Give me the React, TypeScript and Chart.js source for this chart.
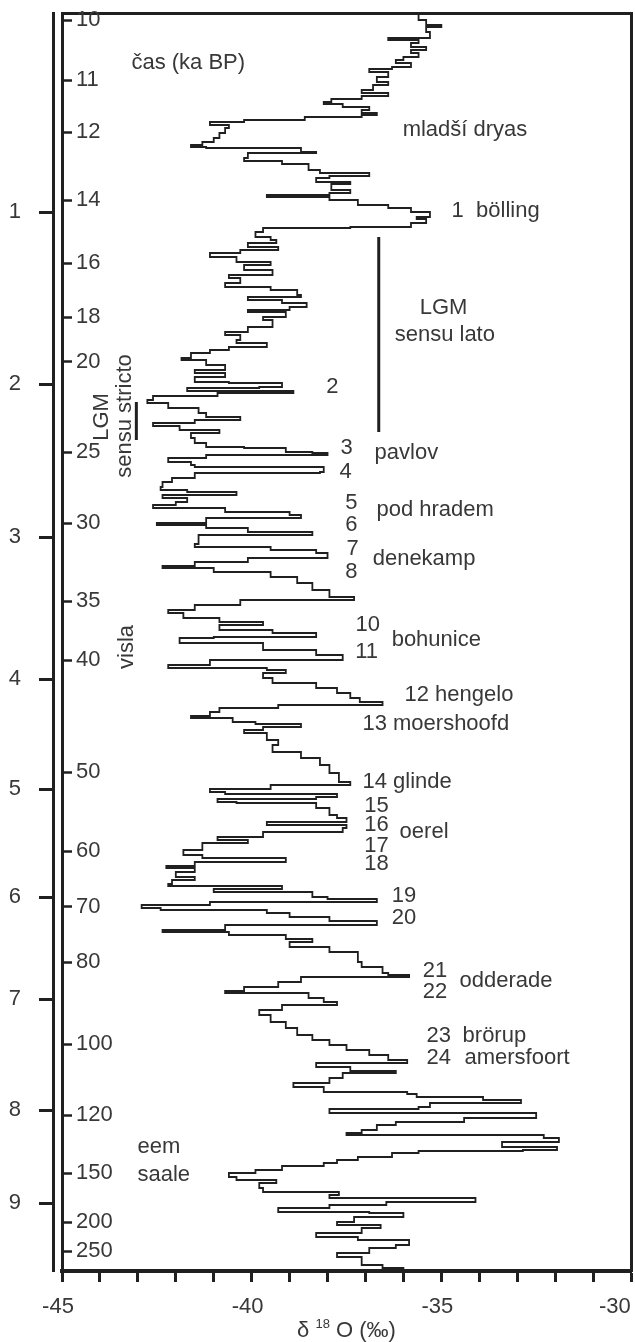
import React, { useEffect, useRef } from 'react';
import { Chart, registerables } from 'chart.js';

Chart.register(...registerables);

const FONT = '"Liberation Sans", Arial, Helvetica, sans-serif';
const TEXT = '#383838';
const INK = '#202020';

// vertical coordinate: linear position along the plotted profile (0 = top of record)
const PROFILE_MAX = 1258;

// inner axis: time (ka BP), non-linear
const AGE_LABELS = ['10', '11', '12', '14', '16', '18', '20', '25', '30', '35', '40', '50', '60', '70', '80', '100', '120', '150', '200', '250'];
const AGE_POS = [7, 67, 119, 187, 250, 304, 349, 439, 510, 588, 647, 759, 838, 894, 949, 1031, 1102, 1160, 1209, 1238];

// outer axis: depth (km)
const DEPTH_LABELS = ['1', '2', '3', '4', '5', '6', '7', '8', '9'];
const DEPTH_POS = [199, 371, 524, 666, 776, 884, 986, 1097, 1190];

// δ18O record (stepped), position along profile
const PROFILE_POS = [
  0, 7, 12, 14, 19, 25, 27, 30, 34, 37, 40, 44, 47, 50, 54, 56, 59, 64, 69, 72,
  77, 80, 83, 86, 89, 91, 94, 97, 100, 102, 104, 107, 109, 112, 115, 120, 125, 129, 132, 134,
  135, 139, 140, 145, 148, 151, 157, 160, 163, 165, 169, 171, 177, 180, 182, 184, 187, 192, 195, 199,
  204, 206, 210, 214, 215, 219, 224, 227, 230, 234, 237, 240, 244, 249, 252, 257, 262, 265, 270, 274,
  277, 282, 284, 287, 290, 294, 297, 299, 304, 307, 314, 319, 322, 327, 330, 334, 337, 340, 345, 347,
  352, 357, 360, 364, 369, 370, 374, 375, 378, 380, 383, 387, 390, 395, 400, 404, 407, 410, 413, 417,
  420, 425, 430, 434, 435, 439, 440, 442, 445, 449, 452, 454, 459, 460, 465, 469, 474, 477, 479, 482,
  485, 489, 492, 495, 499, 502, 505, 510, 512, 515, 519, 522, 531, 534, 537, 540, 545, 549, 553, 555,
  559, 564, 570, 577, 584, 587, 592, 597, 600, 605, 609, 612, 617, 620, 624, 625, 630, 637, 642, 647,
  652, 655, 657, 660, 665, 670, 675, 680, 685, 689, 692, 695, 699, 703, 705, 709, 711, 714, 717, 720,
  727, 732, 739, 745, 752, 760, 769, 772, 776, 779, 781, 784, 786, 789, 790, 795, 802, 805, 809, 812,
  815, 819, 824, 827, 830, 837, 842, 845, 849, 853, 855, 859, 864, 867, 871, 873, 876, 879, 884, 886,
  889, 892, 895, 897, 900, 904, 908, 912, 917, 919, 922, 926, 929, 934, 939, 949, 954, 960, 962, 964,
  969, 974, 978, 980, 985, 989, 992, 997, 1002, 1009, 1015, 1022, 1027, 1032, 1037, 1042, 1047, 1050, 1054, 1058,
  1060, 1065, 1070, 1074, 1079, 1081, 1084, 1087, 1090, 1094, 1096, 1100, 1105, 1109, 1112, 1117, 1120, 1122, 1125, 1129,
  1134, 1137, 1138, 1140, 1144, 1147, 1150, 1153, 1157, 1160, 1164, 1167, 1170, 1175, 1179, 1182, 1185, 1189, 1192, 1195,
  1199, 1200, 1204, 1209, 1212, 1215, 1220, 1224, 1227, 1232, 1235, 1240, 1244, 1249, 1252, 1255, 1258,
];
const D18O = [
  -35.6, -35.4, -35.0, -35.4, -35.3, -36.4, -35.6, -35.8, -35.4, -35.8, -35.6, -36.0, -36.2, -35.8, -36.3, -36.9, -36.4, -36.7, -36.4, -36.8,
  -37.1, -36.4, -37.1, -37.9, -38.1, -37.6, -36.9, -37.1, -36.7, -37.1, -38.6, -40.2, -41.1, -40.6, -40.7, -40.85, -41.0, -41.3, -41.6, -41.2,
  -38.7, -38.3, -40.1, -40.2, -39.2, -38.5, -38.2, -36.9, -37.95, -38.3, -37.4, -37.9, -37.4, -37.95, -39.6, -37.95, -37.2, -36.4, -35.8, -35.3,
  -35.65, -35.4, -35.8, -37.4, -39.7, -39.9, -39.5, -39.35, -40.1, -39.3, -40.3, -41.1, -40.4, -39.5, -40.2, -39.45, -40.6, -40.3, -40.7, -39.5,
  -38.8, -38.7, -40.1, -39.2, -38.55, -39.0, -40.1, -39.1, -39.7, -39.45, -40.1, -40.7, -40.3, -40.4, -39.6, -40.6, -41.1, -41.6, -41.85, -41.2,
  -40.7, -41.5, -40.7, -41.5, -40.6, -39.2, -39.8, -41.7, -38.9, -40.9, -42.6, -42.75, -42.2, -41.4, -41.2, -40.3, -41.5, -42.6, -41.9, -40.85,
  -41.6, -41.5, -41.2, -40.2, -39.1, -38.4, -38.0, -41.2, -42.2, -41.6, -41.5, -38.1, -38.2, -41.5, -42.1, -42.35, -42.4, -41.7, -40.4, -42.35,
  -41.7, -42.0, -42.6, -40.7, -39.0, -38.7, -41.2, -42.5, -41.2, -40.1, -38.4, -41.4, -41.5, -39.5, -38.3, -38.0, -40.1, -41.5, -42.35, -41.0,
  -39.5, -38.8, -38.4, -37.95, -37.3, -40.3, -41.5, -42.2, -41.8, -40.85, -39.7, -40.85, -39.45, -38.3, -41.0, -41.9, -39.7, -38.3, -37.6, -41.1,
  -42.2, -39.6, -39.1, -39.7, -39.45, -38.3, -37.75, -37.4, -37.15, -36.55, -39.3, -40.85, -41.1, -41.6, -40.5, -39.9, -38.7, -39.7, -40.2, -39.6,
  -39.3, -39.45, -38.7, -38.2, -37.95, -37.7, -37.4, -39.5, -41.1, -40.7, -37.75, -38.3, -40.9, -40.4, -38.3, -37.95, -37.75, -37.5, -39.6, -37.5,
  -37.6, -39.7, -40.9, -40.1, -41.3, -41.8, -41.3, -39.1, -41.5, -42.25, -41.5, -42.0, -41.5, -42.1, -42.2, -39.2, -41.0, -38.4, -38.0, -36.7,
  -41.1, -42.9, -42.4, -39.6, -39.0, -37.95, -36.7, -40.7, -42.35, -40.6, -39.1, -38.4, -39.0, -37.95, -37.2, -37.1, -36.55, -36.4, -35.85, -38.7,
  -39.3, -40.2, -40.7, -38.5, -38.1, -37.75, -39.2, -39.8, -39.5, -39.1, -38.8, -38.4, -37.95, -37.5, -36.9, -36.4, -35.9, -38.3, -37.4, -36.2,
  -37.6, -37.95, -38.9, -38.1, -35.9, -35.65, -33.9, -32.9, -35.3, -35.6, -37.95, -32.5, -34.4, -36.2, -36.7, -37.1, -37.5, -32.3, -31.9, -33.4,
  -31.95, -32.85, -35.6, -36.3, -37.2, -37.75, -38.1, -39.2, -39.9, -40.6, -40.4, -39.35, -39.8, -39.7, -37.7, -37.95, -34.1, -36.45, -37.95, -39.3,
  -36.9, -36.0, -37.3, -37.75, -36.6, -37.1, -38.3, -37.2, -35.85, -36.2, -36.9, -37.75, -37.1, -37.1, -36.55, -36.0, -36.0,
];

// range bars (δ18O position, start/end along profile)
const LGM_LATO_X = -36.65;
const LGM_LATO_POS = [224, 419];
const LGM_STRICTO_X = -43.04;
const LGM_STRICTO_POS = [389, 427];

// annotations: [text, δ18O anchor, profile anchor, align, rotated]
const NOTES: [string, number, number, string, boolean][] = [
  ['čas (ka BP)', -43.17, 50, 'left', false],
  ['mladší dryas', -36.02, 117, 'left', false],
  ['1  bölling', -34.73, 198, 'left', false],
  ['LGM', -35.57, 295, 'left', false],
  ['sensu lato', -36.23, 322, 'left', false],
  ['2', -37.87, 374, 'center', false],
  ['LGM', -43.96, 404, 'center', true],
  ['sensu stricto', -43.33, 403, 'center', true],
  ['3', -37.5, 435, 'center', false],
  ['pavlov', -36.76, 440, 'left', false],
  ['4', -37.52, 459, 'center', false],
  ['5', -37.37, 490, 'center', false],
  ['pod hradem', -36.71, 497, 'left', false],
  ['6', -37.37, 512, 'center', false],
  ['7', -37.34, 536, 'center', false],
  ['denekamp', -36.81, 546, 'left', false],
  ['8', -37.37, 559, 'center', false],
  ['10', -36.94, 612, 'center', false],
  ['bohunice', -36.31, 627, 'left', false],
  ['11', -36.97, 639, 'center', false],
  ['visla', -43.28, 634, 'center', true],
  ['12 hengelo', -35.97, 682, 'left', false],
  ['13 moershoofd', -37.08, 711, 'left', false],
  ['14 glinde', -37.08, 769, 'left', false],
  ['15', -37.03, 793, 'left', false],
  ['16', -37.03, 812, 'left', false],
  ['oerel', -36.1, 819, 'left', false],
  ['17', -37.03, 833, 'left', false],
  ['18', -37.03, 851, 'left', false],
  ['19', -36.31, 883, 'left', false],
  ['20', -36.31, 905, 'left', false],
  ['21', -35.49, 958, 'left', false],
  ['22', -35.49, 979, 'left', false],
  ['odderade', -34.52, 968, 'left', false],
  ['23', -35.39, 1023, 'left', false],
  ['brörup', -34.44, 1023, 'left', false],
  ['24', -35.39, 1045, 'left', false],
  ['amersfoort', -34.39, 1045, 'left', false],
  ['eem', -43.01, 1134, 'left', false],
  ['saale', -43.01, 1162, 'left', false],
];

const notesPlugin = {
  id: 'notes',
  afterDraw(chart: any) {
    const { ctx, scales } = chart;
    const xs = scales.x;
    const ys = scales.yAge;
    ctx.save();
    ctx.fillStyle = TEXT;
    ctx.font = `22px ${FONT}`;
    ctx.textBaseline = 'middle';
    for (const [text, d, p, align, rot] of NOTES) {
      const px = xs.getPixelForValue(d);
      const py = ys.getPixelForValue(p);
      ctx.save();
      ctx.translate(px, py);
      if (rot) ctx.rotate(-Math.PI / 2);
      ctx.textAlign = align;
      ctx.fillText(text, 0, 0);
      ctx.restore();
    }
    // x-axis title with superscript
    const parts: [string, number, number][] = [['δ ', 22, 0], ['18', 13, -7], [' O (‰)', 22, 0]];
    let total = 0;
    const widths = parts.map(([t, s]) => {
      ctx.font = `${s}px ${FONT}`;
      const w = ctx.measureText(t).width;
      total += w;
      return w;
    });
    let cx = (xs.left + xs.right) / 2 - total / 2;
    const ty = xs.bottom - 11;
    ctx.textAlign = 'left';
    parts.forEach(([t, s, dy], i) => {
      ctx.font = `${s}px ${FONT}`;
      ctx.fillText(t, cx, ty + dy);
      cx += widths[i];
    });
    ctx.restore();
  },
};

const noPad = (s: any) => {
  s.paddingLeft = 0;
  s.paddingRight = 0;
  s.paddingTop = 0;
  s.paddingBottom = 0;
};

export default function App() {
  const ref = useRef<HTMLCanvasElement>(null);
  useEffect(() => {
    const canvas = ref.current;
    if (!canvas) return;
    const record = PROFILE_POS.map((p, i) => ({ x: D18O[i], y: p }));
    const lato = LGM_LATO_POS.map((p) => ({ x: LGM_LATO_X, y: p }));
    const stricto = LGM_STRICTO_POS.map((p) => ({ x: LGM_STRICTO_X, y: p }));
    const tickFont = { family: FONT, size: 22 };
    const chart = new Chart(canvas, {
      type: 'line',
      data: {
        datasets: [
          { data: record, stepped: 'after', borderColor: INK, borderWidth: 1.8, pointRadius: 0, fill: false, xAxisID: 'x', yAxisID: 'yAge' },
          { data: lato, borderColor: INK, borderWidth: 3, pointRadius: 0, fill: false, xAxisID: 'x', yAxisID: 'yAge' },
          { data: stricto, borderColor: INK, borderWidth: 3, pointRadius: 0, fill: false, xAxisID: 'x', yAxisID: 'yAge' },
        ],
      } as any,
      options: {
        responsive: false,
        animation: false,
        layout: { autoPadding: false, padding: { top: 13, right: 4, left: 0, bottom: 0 } },
        plugins: { legend: { display: false }, tooltip: { enabled: false } },
        scales: {
          x: {
            type: 'linear', position: 'bottom', min: -45, max: -30,
            ticks: {
              stepSize: 1, autoSkip: false, maxRotation: 0, color: TEXT, font: tickFont, padding: 12, labelOffset: -4,
              callback: (v: any, i: number, ticks: any[]) => {
                if (Math.round(Number(v)) % 5 !== 0) return '';
                // last label sits inside the frame, ending at its tick
                return i === ticks.length - 1 ? `${v}    ` : String(v);
              },
            },
            grid: { display: true, drawOnChartArea: false, drawTicks: true, tickLength: 11, tickWidth: 3, tickColor: INK },
            border: { display: true, color: INK, width: 4 },
            afterFit: (s: any) => { s.height = 71; noPad(s); },
          },
          x2: {
            type: 'linear', position: 'top', min: -45, max: -30,
            ticks: { display: false },
            grid: { display: true, drawOnChartArea: false, drawTicks: false },
            border: { display: true, color: INK, width: 3 },
            afterFit: (s: any) => { s.height = 0; noPad(s); },
          },
          yR: {
            type: 'linear', position: 'right', min: 0, max: PROFILE_MAX, reverse: true,
            ticks: { display: false },
            grid: { display: true, drawOnChartArea: false, drawTicks: false },
            border: { display: true, color: INK, width: 3 },
            afterFit: (s: any) => { s.width = 0; noPad(s); },
          },
          yAge: {
            type: 'linear', position: 'left', weight: 0, min: 0, max: PROFILE_MAX, reverse: true,
            afterBuildTicks: (s: any) => { s.ticks = AGE_POS.map((v) => ({ value: v })); },
            ticks: { autoSkip: false, mirror: true, padding: 14, color: TEXT, font: tickFont, callback: (_v: any, i: number) => AGE_LABELS[i] },
            grid: { display: true, drawOnChartArea: false, drawTicks: true, tickLength: -10, tickWidth: 2.5, tickColor: INK },
            border: { display: true, color: INK, width: 3 },
            afterFit: (s: any) => { s.width = 9; noPad(s); },
          },
          yDepth: {
            type: 'linear', position: 'left', weight: 1, min: 0, max: PROFILE_MAX, reverse: true,
            afterBuildTicks: (s: any) => { s.ticks = DEPTH_POS.map((v) => ({ value: v })); },
            ticks: { autoSkip: false, padding: 18, color: TEXT, font: tickFont, callback: (_v: any, i: number) => DEPTH_LABELS[i] },
            grid: { display: true, drawOnChartArea: false, drawTicks: true, tickLength: 14, tickWidth: 3, tickColor: INK },
            border: { display: true, color: INK, width: 3 },
            afterFit: (s: any) => { s.width = 53; noPad(s); },
          },
        },
      } as any,
      plugins: [notesPlugin],
    });
    return () => chart.destroy();
  }, []);
  return (
    <div style={{ position: 'absolute', left: 0, top: 0, width: 635, height: 1342, background: '#ffffff' }}>
      <canvas ref={ref} width={635} height={1342} style={{ width: 635, height: 1342, display: 'block' }} />
    </div>
  );
}
